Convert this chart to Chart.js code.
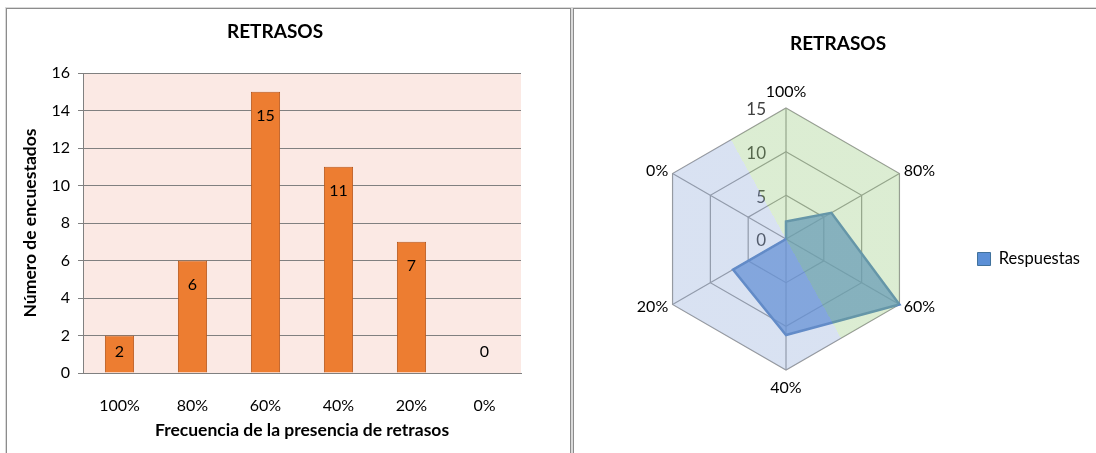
<!DOCTYPE html>
<html lang="es">
<head>
<meta charset="UTF-8">
<title>Retrasos</title>
<script src="https://cdn.jsdelivr.net/npm/chart.js@4"></script>
<style>
  html, body { margin: 0; padding: 0; background: #fff; overflow: hidden; }
  body { width: 1096px; height: 453px; position: relative; }
  .panel { position: absolute; top: 8px; height: 470px; border: 1px solid #8c8c8c; box-shadow: 0 0 0 1px #dadada; }
  #panelBar { left: 6px; width: 563px; }
  #panelRadar { left: 573px; width: 560px; }
  canvas { position: absolute; top: 0; }
  #barChart { left: 0; width: 570px; height: 453px; }
  #radarChart { left: 574px; width: 522px; height: 453px; }
</style>
</head>
<body>
<div class="panel" id="panelBar"></div>
<div class="panel" id="panelRadar"></div>
<canvas id="barChart" width="570" height="453"></canvas>
<canvas id="radarChart" width="522" height="453"></canvas>

<script>
// datos de la encuesta
const titulo = "RETRASOS";
const categorias = ["100%", "80%", "60%", "40%", "20%", "0%"];
const respuestas = [2, 6, 15, 11, 7, 0];
const serieNombre = "Respuestas";
const ticksBarras = [0, 2, 4, 6, 8, 10, 12, 14, 16];
const ticksRadar = [0, 5, 10, 15];
const tituloEjeX = "Frecuencia de la presencia de retrasos";
const tituloEjeY = "Número de encuestados";

Chart.defaults.font.family = "Lato, 'Open Sans', sans-serif";
Chart.defaults.color = "#000";

// chart title drawn at a fixed spot of each panel
const headline = {
  id: "headline",
  afterDraw(chart, args, opts) {
    const ctx = chart.ctx;
    ctx.save();
    ctx.font = "bold 19px Lato";
    ctx.fillStyle = "#000";
    ctx.textAlign = "center";
    ctx.textBaseline = "middle";
    ctx.fillText(opts.text, opts.x, opts.y);
    ctx.restore();
  }
};

// pink plot area
const plotBackground = {
  id: "plotBackground",
  beforeDraw(chart, args, opts) {
    const { ctx, chartArea: a } = chart;
    ctx.save();
    ctx.fillStyle = opts.color;
    ctx.fillRect(a.left, a.top, a.right - a.left, a.bottom - a.top);
    ctx.restore();
  }
};

// value inside the top of each bar (kept above the axis for short bars)
const barValues = {
  id: "barValues",
  afterDatasetsDraw(chart) {
    const ctx = chart.ctx;
    const meta = chart.getDatasetMeta(0);
    const data = chart.data.datasets[0].data;
    ctx.save();
    ctx.font = "16px Lato";
    ctx.fillStyle = "#000";
    ctx.textAlign = "center";
    ctx.textBaseline = "middle";
    meta.data.forEach((bar, i) => {
      const y = Math.min(bar.y + 24, bar.base - 21);
      ctx.fillText(String(data[i]), bar.x, y);
    });
    ctx.restore();
  }
};

new Chart(document.getElementById("barChart"), {
  type: "bar",
  data: {
    labels: categorias,
    datasets: [{
      label: serieNombre,
      data: respuestas,
      backgroundColor: "#ED7D31",
      borderColor: "#B85A1E",
      borderWidth: 1,
      barPercentage: 0.4,
      categoryPercentage: 1
    }]
  },
  options: {
    responsive: false,
    animation: false,
    layout: { padding: { left: 0, right: 49, top: 73, bottom: 0 } },
    plugins: {
      legend: { display: false },
      tooltip: { enabled: false },
      headline: { text: titulo, x: 275, y: 32 },
      plotBackground: { color: "#FBE9E4" }
    },
    scales: {
      x: {
        afterFit: s => { s.height = 80; },
        grid: { display: false },
        border: { display: true, color: "#808080", width: 1 },
        ticks: { padding: 15, font: { size: 16 }, color: "#000" },
        title: {
          display: true,
          text: tituloEjeX,
          font: { size: 17.5, weight: "bold" },
          color: "#000",
          padding: { top: 0, bottom: 12.5 }
        }
      },
      y: {
        min: 0,
        max: ticksBarras[ticksBarras.length - 1],
        afterFit: s => { s.width = 83; },
        afterBuildTicks: s => { s.ticks = ticksBarras.map(v => ({ value: v })); },
        grid: { color: "#808080", lineWidth: 1, tickLength: 5, drawTicks: true },
        border: { display: true, color: "#808080", width: 1 },
        ticks: { padding: 8, font: { size: 16 }, color: "#000" },
        title: {
          display: true,
          text: tituloEjeY,
          font: { size: 17.5, weight: "bold" },
          color: "#000",
          padding: { top: 19.5, bottom: 0 }
        }
      }
    }
  },
  plugins: [plotBackground, barValues, headline]
});

// radial value labels, placed left of the vertical spoke
const radarTicks = {
  id: "radarTicks",
  beforeDatasetsDraw(chart) {
    const s = chart.scales.r;
    const ctx = chart.ctx;
    ctx.save();
    ctx.font = "17px Lato";
    ctx.fillStyle = "#404040";
    ctx.textAlign = "right";
    ctx.textBaseline = "middle";
    ticksRadar.forEach(v => {
      ctx.fillText(String(v), s.xCenter - 20, s.yCenter - s.getDistanceFromCenterForValue(v) + 2);
    });
    ctx.restore();
  }
};

// two-tone translucent plot area laid over the web
const plotTint = {
  id: "plotTint",
  afterDatasetsDraw(chart, args, opts) {
    const s = chart.scales.r;
    const ctx = chart.ctx;
    const R = s.getDistanceFromCenterForValue(s.max);
    ctx.save();
    ctx.beginPath();
    chart.data.labels.forEach((l, i) => {
      const p = s.getPointPosition(i, R);
      if (i === 0) ctx.moveTo(p.x, p.y); else ctx.lineTo(p.x, p.y);
    });
    ctx.closePath();
    const a = opts.angle * Math.PI / 180;
    const nx = Math.cos(a), ny = -Math.sin(a);
    const g = ctx.createLinearGradient(s.xCenter - nx * R, s.yCenter - ny * R, s.xCenter + nx * R, s.yCenter + ny * R);
    g.addColorStop(0, opts.left);
    g.addColorStop(0.5, opts.left);
    g.addColorStop(0.5, opts.right);
    g.addColorStop(1, opts.right);
    ctx.fillStyle = g;
    ctx.fill();
    ctx.restore();
  }
};

// category labels around the web
const radarLabels = {
  id: "radarLabels",
  afterDraw(chart) {
    const s = chart.scales.r;
    const ctx = chart.ctx;
    ctx.save();
    ctx.font = "16px Lato";
    ctx.fillStyle = "#000";
    ctx.textBaseline = "middle";
    chart.data.labels.forEach((lbl, i) => {
      const p = s.getPointPosition(i, s.drawingArea + 5);
      const dx = p.x - s.xCenter;
      let y = p.y;
      if (dx > 1) ctx.textAlign = "left";
      else if (dx < -1) ctx.textAlign = "right";
      else {
        ctx.textAlign = "center";
        y += p.y < s.yCenter ? -11 : 13;
      }
      ctx.fillText(lbl, p.x, y);
    });
    ctx.restore();
  }
};

new Chart(document.getElementById("radarChart"), {
  type: "radar",
  data: {
    labels: categorias,
    datasets: [{
      label: serieNombre,
      data: respuestas,
      backgroundColor: "rgba(91,140,214,0.75)",
      borderColor: "#5683C2",
      borderWidth: 2.5,
      pointRadius: 0
    }]
  },
  options: {
    responsive: false,
    animation: false,
    layout: { padding: { left: 31, right: 6, top: 108, bottom: 83 } },
    plugins: {
      tooltip: { enabled: false },
      headline: { text: titulo, x: 264, y: 44 },
      plotTint: { angle: 29, left: "rgba(128,158,212,0.3)", right: "rgba(138,195,108,0.3)" },
      legend: {
        position: "right",
        // empty title used as a spacer to drop the entry below centre
        title: { display: true, text: "", padding: 0, font: { size: 40, lineHeight: 1 } },
        labels: {
          boxWidth: 13,
          boxHeight: 13,
          font: { size: 16.5 },
          color: "#000",
          generateLabels: chart => Chart.defaults.plugins.legend.labels.generateLabels(chart)
            .map(l => Object.assign(l, { fillStyle: "#5B8FD6", strokeStyle: "#41719C", lineWidth: 1 }))
        }
      }
    },
    scales: {
      r: {
        min: 0,
        max: ticksRadar[ticksRadar.length - 1],
        afterBuildTicks: s => { s.ticks = ticksRadar.map(v => ({ value: v })); },
        ticks: { display: false },
        pointLabels: { display: false },
        grid: { color: "#999999", lineWidth: 1.2 },
        angleLines: { color: "#999999", lineWidth: 1.2 }
      }
    }
  },
  plugins: [radarTicks, plotTint, radarLabels, headline]
});
</script>
</body>
</html>
